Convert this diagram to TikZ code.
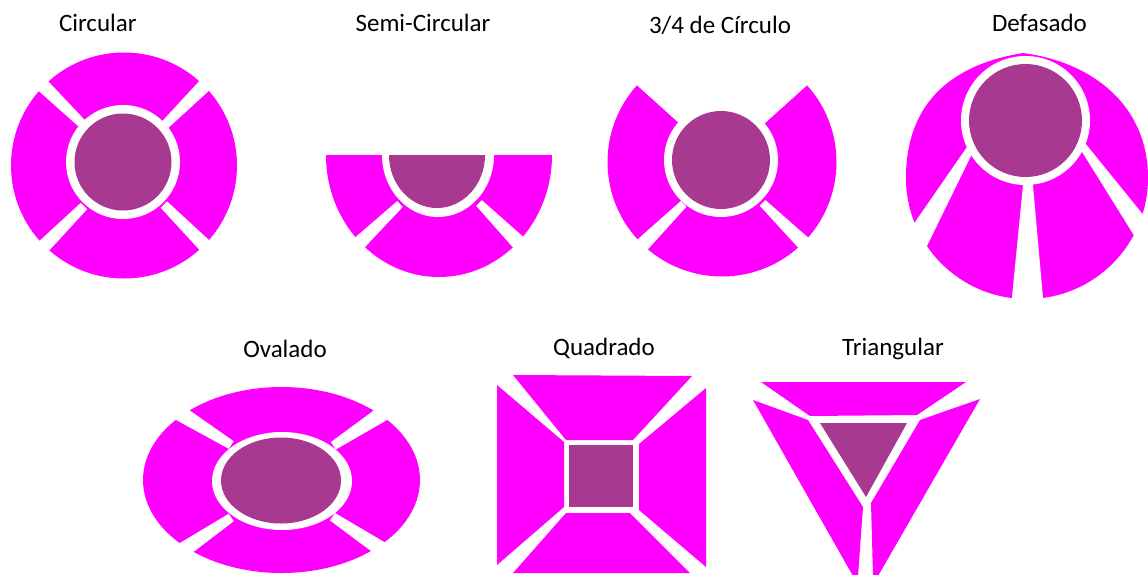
\documentclass[tikz,border=0pt]{standalone}
\usepackage{fontspec}
\setmainfont{Carlito}
\usetikzlibrary{calc}
\definecolor{mag}{RGB}{255,0,255}
\definecolor{pur}{RGB}{168,57,145}
% wedge-shaped white gap: inner point, outer point, inner half width, outer half width
\newcommand\gapw[4]{\fill[white] ($#1!#3!90:#2$) -- ($#2!#4!-90:#1$) -- ($#2!#4!90:#1$) -- ($#1!#3!-90:#2$) -- cycle;}
\tikzset{
  ttl/.style={anchor=base,inner sep=0pt,font=\fontsize{25}{30}\selectfont},
  piece/.style={fill=mag},
  core/.style={fill=pur},
  ring/.style={fill=white}
}
\begin{document}
\begin{tikzpicture}[x=1pt,y=-1pt]
\useasboundingbox (0,0) rectangle (1148,574);
% titles
\node[ttl] (t1) at (97.8,31.7) {Circular};
\node[ttl] (t2) at (423,31.7) {Semi-Circular};
\node[ttl] (t3) at (720,33.3) {3/4 de Círculo};
\node[ttl] (t4) at (1039.5,31.7) {Defasado};
\node[ttl] (t5) at (285,357.3) {Ovalado};
\node[ttl] (t6) at (604,355.5) {Quadrado};
\node[ttl] (t7) at (893,355.5) {Triangular};

% Circular
\fill[piece] (124,165.5) circle[radius=113];
\gapw{(81.7,123.3)}{(32,75)}{4.5pt}{7.5pt}
\gapw{(164.5,125.3)}{(215,75.1)}{4.5pt}{7.5pt}
\gapw{(84,206)}{(33,257)}{4.5pt}{7.5pt}
\gapw{(163.8,204.5)}{(215.2,255.9)}{4.5pt}{7.5pt}
\fill[ring] (123,162) circle[radius=57];
\fill[core] (123,162) circle[radius=48.5];

% Semi-Circular
\fill[piece] (552,155) arc[start angle=0,end angle=180,x radius=113,y radius=122] -- cycle;
\gapw{(400,204)}{(337.6,263.8)}{4pt}{8.5pt}
\gapw{(479,203)}{(531,255)}{4pt}{8.5pt}
\fill[ring] (438,155) ellipse[x radius=56,y radius=62];
\fill[core] (389,155) arc[start angle=180,end angle=0,x radius=48,y radius=53] -- cycle;

% 3/4 de Circulo
\fill[piece] (722,162) -- ++(-42:114.5) arc[start angle=-42,end angle=222,radius=114.5] -- cycle;
\gapw{(683.7,203.8)}{(631.8,255.2)}{4pt}{8pt}
\gapw{(762.5,202.8)}{(814.8,254)}{4pt}{8pt}
\fill[ring] (721,160) circle[radius=57];
\fill[core] (721,160) circle[radius=49];

% Defasado
\fill[piece] (906,178) .. controls (906,100) and (955,64) .. (1023,53)
  .. controls (1092,62) and (1148,105) .. (1148,178)
  arc[start angle=0,end angle=180,radius=121] -- cycle;
\fill[white] (972.4,139.2) -- (896.8,248.4) -- (913.1,274.4) -- (973.3,151.2) -- cycle;
\fill[white] (1079,135.6) -- (1163,239.2) -- (1150.3,261.6) -- (1078.9,146.8) -- cycle;
\fill[white] (1023.5,180) -- (1010.9,308) -- (1044,309.2) -- (1032.5,180) -- cycle;
\fill[ring] (1025.5,120.5) circle[radius=64.5];
\fill[core] (1025.5,120.5) circle[radius=56.5];

% Ovalado
\fill[piece] (281.5,480) ellipse[x radius=138.5,y radius=93];
\gapw{(231.2,445)}{(170.1,407)}{4.5pt}{8.5pt}
\gapw{(333.3,445.8)}{(393.6,406.4)}{4.5pt}{8.5pt}
\gapw{(231.2,517.5)}{(172.2,557.5)}{4.5pt}{8.5pt}
\gapw{(332.5,516.7)}{(394.3,557.8)}{4.5pt}{8.5pt}
\fill[ring] (282,481) ellipse[x radius=70,y radius=49];
\fill[core] (281,480.5) ellipse[x radius=60,y radius=43];

% Quadrado
\fill[piece] (513,375) -- (692,376) -- (633,440) -- (566,440) -- cycle;
\fill[piece] (497,385) -- (564,442) -- (564,507) -- (497,565) -- cycle;
\fill[piece] (706,388) -- (706,567) -- (639,510) -- (639,444) -- cycle;
\fill[piece] (566,513) -- (630,513) -- (690,573) -- (513,573) -- cycle;
\fill[core] (569,445) rectangle (633,507);

% Triangular
\fill[piece] (761,382) -- (966,382) -- (917,415) -- (810,416) -- cycle;
\fill[piece] (753,400) -- (808,420) -- (863,507) -- (858,576) -- (853,576) -- cycle;
\fill[piece] (980,399) -- (920,420) -- (871,503) -- (873,576) -- (878,576) -- cycle;
\fill[core] (820,423) -- (907,423) -- (866,497) -- cycle;
\end{tikzpicture}
\end{document}
